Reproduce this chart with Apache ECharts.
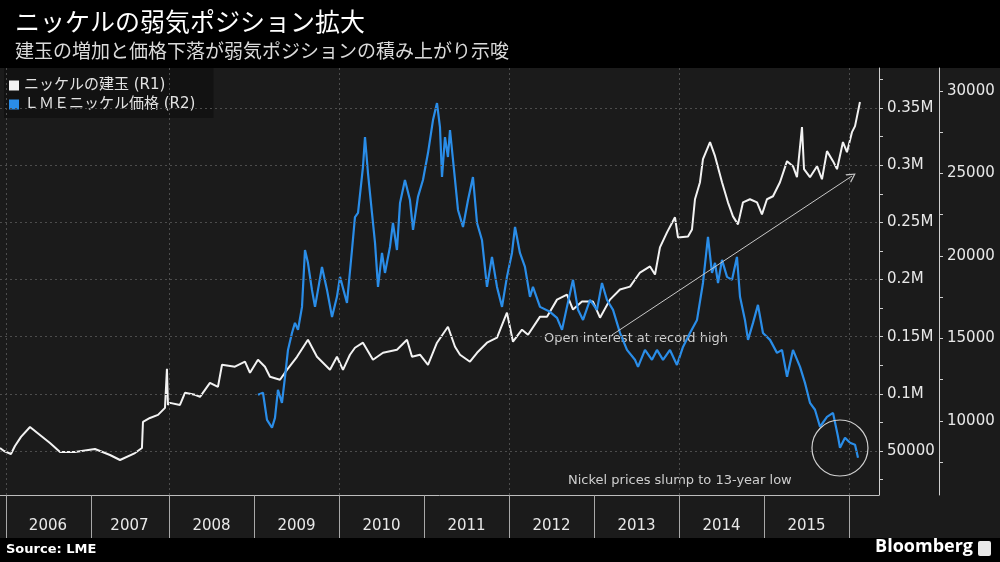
<!DOCTYPE html>
<html>
<head>
<meta charset="utf-8">
<script src="https://cdn.jsdelivr.net/npm/echarts@6/dist/echarts.min.js"></script>
<style>
html, body { margin: 0; padding: 0; background: #000; }
#chart {
    width: 1000px; height: 562px;
    background: linear-gradient(#000 0 68px, #1b1b1b 68px 538px, #000 538px);
}
</style>
</head>
<body>
<div id="chart"></div>
<script>
// x values are decimal years
const openInterest = [
    [2006.012, 52600], [2006.059, 50000], [2006.141, 47400], [2006.188, 54400], [2006.259, 62300],
    [2006.365, 71000], [2006.482, 64000], [2006.600, 57000], [2006.718, 49100], [2006.894, 49100],
    [2007.129, 51700], [2007.306, 46500], [2007.424, 42100], [2007.600, 48200], [2007.682, 52600],
    [2007.694, 75400], [2007.776, 78900], [2007.871, 81600], [2007.953, 87700], [2007.976, 121900],
    [2007.988, 90300], [2008.012, 92100], [2008.129, 90300], [2008.188, 100900], [2008.306, 99100],
    [2008.365, 97400], [2008.482, 109600], [2008.576, 106100], [2008.624, 125400], [2008.776, 123700],
    [2008.894, 128100], [2008.953, 118400], [2009.047, 129800], [2009.129, 123700], [2009.188, 114900],
    [2009.306, 112300], [2009.388, 121000], [2009.506, 132400], [2009.635, 147300], [2009.741, 132400],
    [2009.894, 121000], [2009.976, 132400], [2010.047, 121000], [2010.129, 134200], [2010.188, 140300],
    [2010.282, 144700], [2010.400, 129800], [2010.518, 135900], [2010.682, 138600], [2010.800, 147300],
    [2010.859, 132400], [2010.953, 134200], [2011.047, 125400], [2011.153, 144700], [2011.282, 158700],
    [2011.365, 141200], [2011.424, 134200], [2011.541, 128100], [2011.624, 135900], [2011.741, 144700],
    [2011.859, 149100], [2011.929, 162300], [2011.976, 171000], [2012.047, 145600], [2012.153, 156100],
    [2012.224, 151700], [2012.365, 167500], [2012.447, 167500], [2012.565, 182400], [2012.682, 186800],
    [2012.753, 173700], [2012.859, 180700], [2012.988, 180700], [2013.071, 166600], [2013.188, 182400],
    [2013.306, 191200], [2013.424, 193800], [2013.541, 206100], [2013.659, 211400], [2013.718, 204400],
    [2013.776, 228100], [2013.859, 241200], [2013.953, 254400], [2013.988, 236800], [2014.106, 237700],
    [2014.153, 243800], [2014.188, 270200], [2014.247, 285100], [2014.282, 305200], [2014.365, 320200],
    [2014.424, 307900], [2014.506, 285100], [2014.576, 267500], [2014.635, 255200], [2014.694, 248200],
    [2014.753, 267500], [2014.835, 270200], [2014.918, 267500], [2014.976, 257000], [2015.035, 270200],
    [2015.106, 272800], [2015.188, 285100], [2015.271, 303500], [2015.341, 299100], [2015.388, 289500],
    [2015.447, 333300], [2015.471, 296500], [2015.541, 289500], [2015.624, 299100], [2015.682, 287700],
    [2015.741, 312300], [2015.812, 303500], [2015.859, 296500], [2015.929, 320200], [2015.976, 311400],
    [2016.035, 328900], [2016.071, 334200], [2016.129, 355200]
];

const lmePrice = [
    [2009.047, 11580], [2009.106, 11700], [2009.153, 10060], [2009.212, 9580], [2009.247, 10180],
    [2009.282, 11880], [2009.329, 11090], [2009.365, 12670], [2009.400, 14300], [2009.447, 15330],
    [2009.482, 15940], [2009.518, 15520], [2009.565, 16910], [2009.600, 20360], [2009.635, 19580],
    [2009.682, 17940], [2009.718, 16910], [2009.753, 17940], [2009.800, 19330], [2009.859, 17940],
    [2009.918, 16300], [2009.976, 17520], [2010.012, 18730], [2010.094, 17150], [2010.153, 20360],
    [2010.188, 22360], [2010.224, 22610], [2010.282, 25390], [2010.306, 27210], [2010.341, 25030],
    [2010.388, 22610], [2010.424, 20790], [2010.459, 18120], [2010.506, 20180], [2010.541, 18970],
    [2010.600, 20550], [2010.635, 22000], [2010.682, 20360], [2010.718, 23210], [2010.776, 24610],
    [2010.835, 23390], [2010.871, 21580], [2010.929, 23580], [2010.988, 24610], [2011.047, 26240],
    [2011.106, 28240], [2011.153, 29270], [2011.188, 27820], [2011.212, 24790], [2011.247, 27210],
    [2011.282, 26000], [2011.306, 27640], [2011.365, 24610], [2011.400, 22790], [2011.459, 21760],
    [2011.518, 23390], [2011.576, 24790], [2011.624, 22000], [2011.682, 20970], [2011.741, 18120],
    [2011.800, 19940], [2011.859, 18120], [2011.918, 16910], [2011.976, 18730], [2012.035, 20180],
    [2012.071, 21760], [2012.129, 20180], [2012.188, 19330], [2012.247, 17520], [2012.282, 18120],
    [2012.365, 16910], [2012.482, 16610], [2012.565, 16240], [2012.624, 15520], [2012.682, 16910],
    [2012.753, 18550], [2012.812, 16730], [2012.871, 16120], [2012.953, 17330], [2013.035, 16730],
    [2013.094, 18360], [2013.153, 17330], [2013.224, 16730], [2013.306, 15330], [2013.388, 14300],
    [2013.482, 13700], [2013.518, 13270], [2013.600, 14300], [2013.682, 13700], [2013.741, 14300],
    [2013.812, 13700], [2013.894, 14300], [2013.976, 13390], [2014.047, 14480], [2014.129, 15330],
    [2014.212, 16120], [2014.282, 18360], [2014.341, 21150], [2014.388, 18970], [2014.424, 19580],
    [2014.459, 18360], [2014.506, 19760], [2014.565, 18730], [2014.624, 18550], [2014.682, 19940],
    [2014.718, 17520], [2014.776, 16120], [2014.812, 14910], [2014.871, 15940], [2014.929, 17030],
    [2014.988, 15330], [2015.071, 14910], [2015.153, 14120], [2015.212, 14300], [2015.271, 12670],
    [2015.341, 14300], [2015.424, 13270], [2015.482, 12300], [2015.541, 11090], [2015.600, 10670],
    [2015.659, 9640], [2015.741, 10240], [2015.812, 10480], [2015.871, 9030], [2015.894, 8360],
    [2015.953, 8970], [2016.012, 8670], [2016.071, 8550], [2016.106, 7760]
];

const seriesNames = ['ニッケルの建玉 (R1)', 'ＬＭＥニッケル価格 (R2)'];
const yearEdges = [2006.082, 2007.082, 2008, 2009, 2010, 2011, 2012, 2013, 2014, 2015, 2016];
const yearLabelAt = [2006.576, 2007.535, 2008.5, 2009.5, 2010.5, 2011.5, 2012.5, 2013.5, 2014.5, 2015.5];
const xGridLines = [2006.082, 2008, 2010, 2012, 2014, 2016];
const r1Labels = [50000, 100000, 150000, 200000, 250000, 300000, 350000];
const r1Ticks = [25000, 50000, 75000, 100000, 125000, 150000, 175000, 200000, 225000, 250000, 275000, 300000, 325000, 350000, 375000];
const r2Labels = [10000, 15000, 20000, 25000, 30000];
const r2Ticks = [7500, 10000, 12500, 15000, 17500, 20000, 22500, 25000, 27500, 30000];

const chart = echarts.init(document.getElementById('chart'));

const numFont = 'DejaVu Sans';
const jpFont = 'Noto Sans CJK JP';
const axisColor = '#cfcfcf';

chart.setOption({
    animation: false,
    backgroundColor: 'transparent',
    title: {
        text: 'ニッケルの弱気ポジション拡大',
        subtext: '建玉の増加と価格下落が弱気ポジションの積み上がり示唆',
        left: 15, top: 9, padding: 0, itemGap: 7,
        textStyle: { color: '#ffffff', fontSize: 25, fontWeight: 'normal', fontFamily: jpFont },
        subtextStyle: { color: '#dadada', fontSize: 19, fontFamily: jpFont }
    },
    legend: {
        data: seriesNames,
        left: 4, top: 68,
        orient: 'vertical',
        icon: 'rect',
        itemWidth: 10, itemHeight: 10, itemGap: 4,
        padding: [10, 18, 6, 5],
        backgroundColor: '#121212',
        selectedMode: false,
        textStyle: { color: '#e2e2e2', fontSize: 15, fontFamily: '"DejaVu Sans", "Noto Sans CJK JP"', lineHeight: 14 }
    },
    grid: { left: 0, right: 121, top: 68, bottom: 67, containLabel: false },
    xAxis: [
        { type: 'value', show: false, position: 'top', min: 2006.012, max: 2016.353 },
        {
            type: 'value', position: 'bottom', min: 2006.012, max: 2016.353,
            splitLine: { show: false },
            axisLine: { show: true, lineStyle: { color: '#bdbdbd', width: 1 } },
            axisTick: { show: true, customValues: yearEdges, length: 43, inside: false, lineStyle: { color: '#a8a8a8' } },
            axisLabel: {
                customValues: yearLabelAt, margin: 24,
                formatter: v => String(Math.floor(v)),
                color: '#e8e8e8', fontSize: 15, fontFamily: numFont
            }
        }
    ],
    yAxis: [
        {
            type: 'value', position: 'right', min: 11500, max: 385000,
            splitLine: { show: false },
            axisLine: { show: true, lineStyle: { color: axisColor } },
            axisTick: { show: true, customValues: r1Ticks, length: 4, lineStyle: { color: axisColor } },
            axisLabel: {
                customValues: r1Labels, margin: 8,
                formatter: v => v === 50000 ? '50000' : (v / 1e6) + 'M',
                color: '#e8e8e8', fontSize: 15, fontFamily: numFont
            }
        },
        {
            type: 'value', position: 'right', offset: 60, min: 5500, max: 31400,
            splitLine: { show: false },
            axisLine: { show: true, lineStyle: { color: axisColor } },
            axisTick: { show: true, customValues: r2Ticks, length: 4, lineStyle: { color: axisColor } },
            axisLabel: {
                customValues: r2Labels, margin: 8,
                formatter: v => String(v),
                color: '#e8e8e8', fontSize: 15, fontFamily: numFont
            }
        }
    ],
    series: [
        {
            // dotted grid
            type: 'line', data: [], silent: true, z: 1,
            markLine: {
                silent: true, symbol: 'none', label: { show: false },
                lineStyle: { color: '#4d4d4d', type: [2, 3], width: 1 },
                data: r1Labels.map(v => ({ yAxis: v })).concat(xGridLines.map(v => ({ xAxis: v })))
            }
        },
        {
            name: seriesNames[0], type: 'line', data: openInterest,
            xAxisIndex: 0, yAxisIndex: 0, z: 3,
            symbol: 'none', silent: true,
            itemStyle: { color: '#f2f2f2' },
            lineStyle: { color: '#f2f2f2', width: 2 }
        },
        {
            name: seriesNames[1], type: 'line', data: lmePrice,
            xAxisIndex: 0, yAxisIndex: 1, z: 3,
            symbol: 'none', silent: true,
            itemStyle: { color: '#2a8de8' },
            lineStyle: { color: '#2a8de8', width: 2.2 }
        },
        {
            // annotations
            type: 'line', data: [], silent: true, z: 5,
            markLine: {
                silent: true, label: { show: false },
                symbol: ['none', 'path://M0,10 L5,0 L10,10 L8.6,10 L5,2.6 L1.4,10 Z'],
                symbolSize: [10, 9],
                lineStyle: { color: '#c8c8c8', type: 'solid', width: 1 },
                data: [[{ coord: [2013.212, 151500] }, { coord: [2016.035, 290500] }]]
            },
            markPoint: {
                silent: true, symbol: 'circle', symbolSize: 56, label: { show: false },
                itemStyle: { color: 'rgba(0,0,0,0)', borderColor: '#d0d0d0', borderWidth: 1.2 },
                data: [{ coord: [2015.894, 52600] }]
            }
        }
    ],
    graphic: [
        { type: 'text', left: 544, top: 332, silent: true,
          style: { text: 'Open interest at record high', fill: '#cfcfcf', font: '13px "DejaVu Sans"' } },
        { type: 'text', left: 568, top: 474, silent: true,
          style: { text: 'Nickel prices slump to 13-year low', fill: '#cfcfcf', font: '13px "DejaVu Sans"' } },
        { type: 'text', left: 6, top: 543, silent: true,
          style: { text: 'Source: LME', fill: '#ffffff', font: 'bold 13px "DejaVu Sans"' } },
        { type: 'text', right: 27, top: 538, silent: true,
          style: { text: 'Bloomberg', fill: '#ffffff', font: 'bold 18px "Open Sans"' } },
        { type: 'rect', right: 9, top: 541, silent: true,
          shape: { width: 13, height: 15, r: 2 }, style: { fill: '#e8e8e8' } }
    ]
});
</script>
</body>
</html>
